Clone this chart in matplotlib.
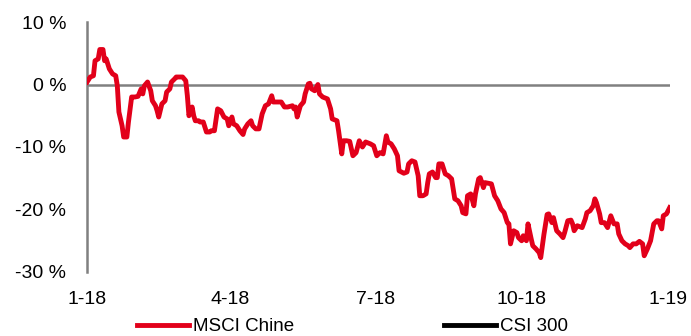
import pandas as pd
import matplotlib
matplotlib.use("Agg")
import matplotlib.pyplot as plt

plt.rcParams['font.family'] = ['Liberation Sans', 'DejaVu Sans']

# days since 2018-01-01 and performance in %
day_offset = [0, 2, 4, 5, 7, 8, 10, 11, 12, 14, 16, 18, 19, 20, 22, 23, 25, 26, 28, 30,
              32, 34, 35, 36, 38, 40, 41, 43, 44, 45, 47, 49, 50, 52, 53, 55, 56, 60, 62, 63,
              64, 66, 67, 68, 70, 71, 73, 75, 77, 78, 80, 82, 84, 86, 88, 89, 91, 92, 94, 96,
              98, 99, 101, 103, 104, 106, 108, 110, 112, 114, 116, 117, 119, 122, 124, 126, 129, 130, 131, 132,
              134, 136, 137, 139, 140, 141, 143, 145, 146, 148, 151, 153, 154, 157, 158, 160, 161, 163, 165, 167,
              169, 171, 173, 175, 178, 180, 182, 184, 186, 188, 189, 191, 193, 195, 196, 199, 201, 202, 204, 206,
              208, 209, 211, 213, 214, 215, 217, 219, 220, 221, 223, 225, 227, 229, 231, 233, 235, 236, 238, 239,
              241, 243, 244, 246, 247, 249, 250, 254, 256, 258, 260, 262, 264, 265, 266, 268, 270, 271, 273, 274,
              276, 277, 279, 280, 282, 284, 285, 287, 289, 290, 292, 293, 295, 297, 299, 300, 302, 304, 305, 306,
              308, 311, 313, 314, 316, 318, 319, 320, 322, 323, 325, 327, 329, 331, 333, 334, 336, 338, 340, 341,
              343, 345, 347, 349, 350, 352, 354, 356, 358, 359, 361, 362, 364, 366]
msci_chine = [0.4, 1.2, 1.4, 3.8, 4.1, 5.6, 5.6, 3.8, 4.1, 2.5, 1.7, 1.4, -0.2, -4.4, -6.6, -8.4, -8.4, -6.0, -2.0, -2.0,
              -1.9, -0.7, -1.5, -0.2, 0.4, -1.0, -2.6, -3.4, -4.2, -5.2, -3.1, -2.6, -1.2, -0.7, 0.4, 0.9, 1.2, 1.2, 0.6, -1.8,
              -5.0, -3.6, -5.0, -5.8, -5.8, -6.0, -6.0, -7.6, -7.6, -7.4, -7.4, -3.9, -4.2, -5.2, -5.5, -6.6, -5.2, -6.3, -6.6, -7.4,
              -8.0, -7.1, -6.3, -5.8, -6.6, -7.1, -7.1, -4.7, -3.4, -3.1, -1.8, -2.8, -2.8, -2.8, -3.6, -3.6, -3.4, -3.9, -3.6, -5.2,
              -3.4, -2.8, -1.5, 0.1, 0.2, -0.7, -1.0, 0.0, -1.5, -2.0, -2.3, -3.9, -5.5, -5.8, -7.4, -11.1, -9.0, -9.0, -9.1, -11.4,
              -10.9, -9.0, -10.0, -9.2, -9.5, -9.8, -11.4, -10.9, -11.1, -8.2, -9.2, -9.5, -10.3, -11.4, -13.8, -14.2, -14.0, -12.7, -12.2, -12.4,
              -14.6, -17.8, -17.8, -17.5, -15.7, -14.3, -14.0, -14.9, -14.9, -12.7, -12.7, -14.3, -14.6, -15.1, -18.3, -18.6, -19.4, -20.5, -20.7, -17.8,
              -17.5, -19.4, -17.5, -15.1, -14.9, -16.5, -15.7, -15.9, -17.8, -18.6, -19.9, -20.5, -22.1, -22.3, -25.5, -23.4, -23.7, -24.5, -25.0, -24.2,
              -25.0, -22.3, -24.7, -25.8, -26.3, -26.9, -27.7, -24.0, -20.8, -20.7, -22.1, -21.3, -23.4, -23.9, -24.5, -23.7, -21.8, -21.7, -22.3, -23.4,
              -22.6, -22.9, -21.5, -20.5, -20.2, -19.4, -18.3, -18.9, -20.7, -22.1, -22.1, -22.9, -21.0, -22.3, -22.3, -23.9, -25.0, -25.5, -25.8, -26.1,
              -25.5, -25.5, -25.1, -25.5, -27.4, -26.3, -25.0, -22.3, -21.8, -21.8, -23.1, -21.0, -20.7, -19.7]
csi_300 = []  # series shown in legend only

tick_dates = ['2018-01-01', '2018-04-01', '2018-07-01', '2018-10-01', '2019-01-01']
tick_labels = ['1-18', '4-18', '7-18', '10-18', '1-19']
y_ticks = [10, 0, -10, -20, -30]

start = pd.Timestamp('2018-01-01')
dates = start + pd.to_timedelta(day_offset, unit='D')

fig = plt.figure(figsize=(6.91, 3.36), dpi=100)
ax = fig.add_axes([0.126, 0.1905, 0.8436, 0.744])

gray = '#808080'
ax.axhline(0, color=gray, lw=1.8, zorder=1)
ax.plot(dates, msci_chine, color='#E2001A', lw=3.5, label='MSCI Chine', zorder=3,
        solid_joinstyle='round')
ax.plot(pd.to_datetime(csi_300), csi_300, color='black', lw=3.5, label='CSI 300')

ax.set_ylim(-30, 10)
ax.set_xlim(start, start + pd.Timedelta(days=366.2))
ax.set_yticks(y_ticks)
ax.set_yticklabels([f'{v} %' for v in y_ticks])
ax.set_xticks(pd.to_datetime(tick_dates))
ax.set_xticklabels(tick_labels)
ax.tick_params(axis='y', length=0, pad=15, labelsize=14)
ax.tick_params(axis='x', length=0, pad=14, labelsize=14)

for s in ['top', 'right', 'bottom']:
    ax.spines[s].set_visible(False)
ax.spines['left'].set_color(gray)
ax.spines['left'].set_linewidth(1.8)

fig.legend(loc='center', bbox_to_anchor=(0.51, 0.028), ncol=2, frameon=False,
           fontsize=13.5, handlelength=2.8, handletextpad=0.2, columnspacing=8.0)

fig.savefig('out.png', dpi=100)
